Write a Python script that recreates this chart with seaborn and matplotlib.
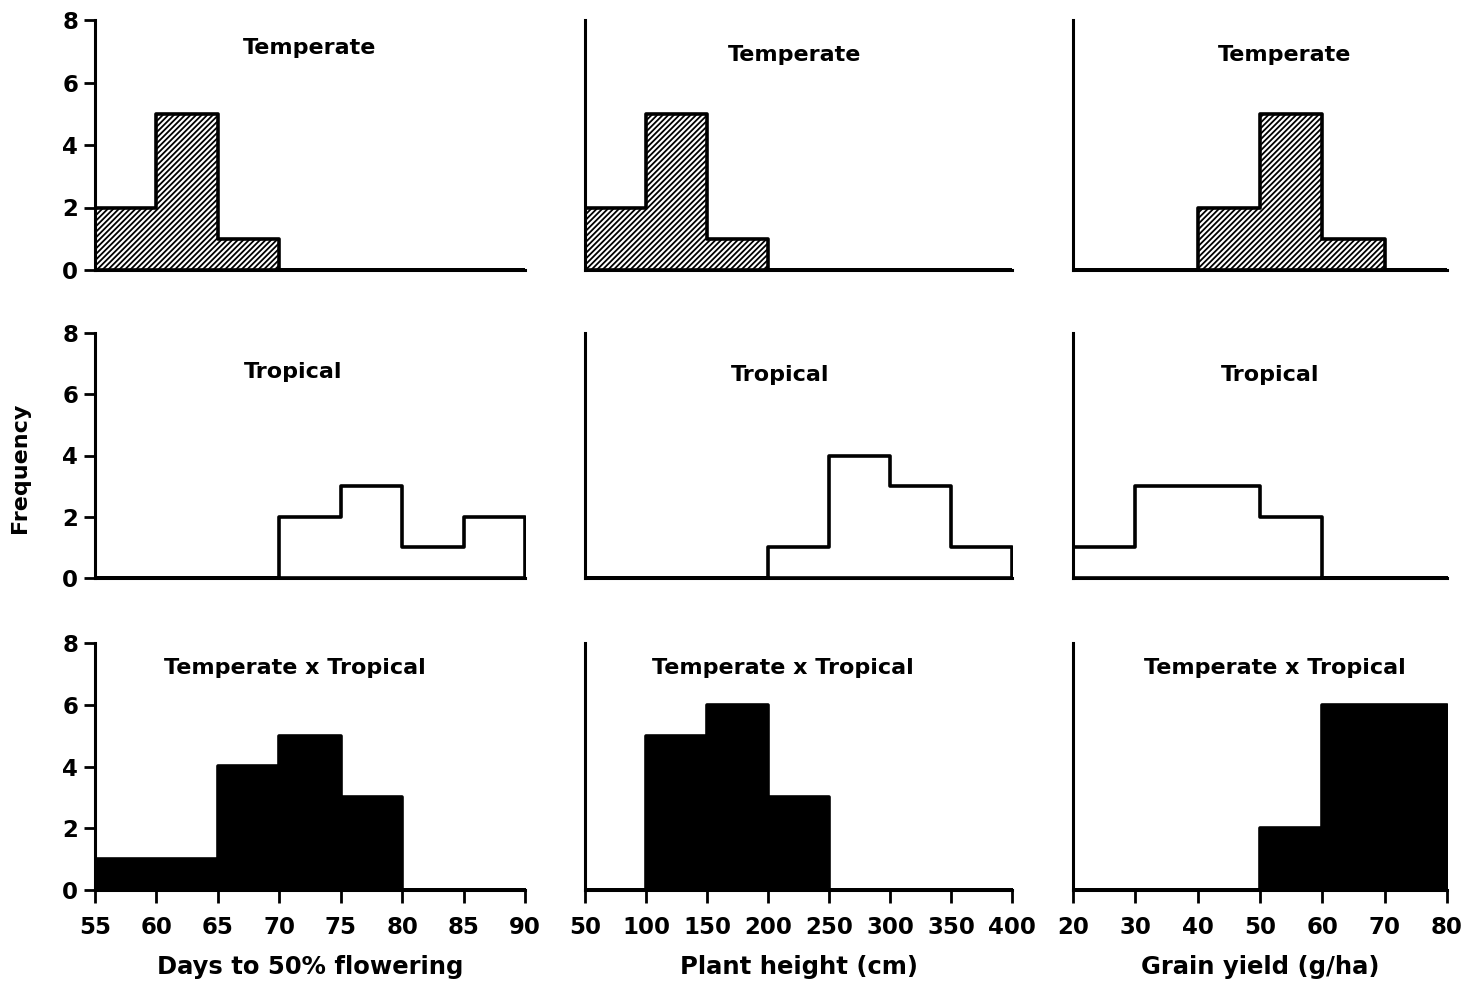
import numpy as np
import pandas as pd
import seaborn as sns
import matplotlib.pyplot as plt

# ---------------- data ----------------
days_edges = [55, 60, 65, 70, 75, 80, 85, 90]
days_temperate = [2, 5, 1, 0, 0, 0, 0]
days_tropical = [0, 0, 0, 2, 3, 1, 2]
days_cross = [1, 1, 4, 5, 3, 0, 0]

height_edges = [50, 100, 150, 200, 250, 300, 350, 400]
height_temperate = [2, 5, 1, 0, 0, 0, 0]
height_tropical = [0, 0, 0, 1, 4, 3, 1]
height_cross = [0, 5, 6, 3, 0, 0, 0]

yield_edges = [20, 30, 40, 50, 60, 70, 80]
yield_temperate = [0, 0, 2, 5, 1, 0]
yield_tropical = [1, 3, 3, 2, 0, 0]
yield_cross = [0, 0, 0, 2, 6, 6]

groups = ["Temperate", "Tropical", "Temperate x Tropical"]
xlabels = ["Days to 50% flowering", "Plant height (cm)", "Grain yield (g/ha)"]
y_ticks = [0, 2, 4, 6, 8]

columns = [
    (days_edges, [days_temperate, days_tropical, days_cross]),
    (height_edges, [height_temperate, height_tropical, height_cross]),
    (yield_edges, [yield_temperate, yield_tropical, yield_cross]),
]

# ---------------- style ----------------
sns.set_style("ticks")
plt.rcParams['font.family'] = ['DejaVu Sans']
plt.rcParams['font.weight'] = 'bold'
plt.rcParams['hatch.linewidth'] = 1.3
plt.rcParams['text.color'] = 'black'
plt.rcParams['xtick.color'] = 'black'
plt.rcParams['ytick.color'] = 'black'
plt.rcParams['axes.labelcolor'] = 'black'
plt.rcParams['axes.edgecolor'] = 'black'

W, H = 1482, 982
fig = plt.figure(figsize=(W / 100, H / 100), dpi=100)

col_px = [(95, 525), (585, 1012), (1073, 1447)]
row_px = [(20, 270), (333, 578), (643, 890)]

styles = [
    dict(facecolor="white", edgecolor="black", hatch="//////"),
    dict(facecolor="white", edgecolor="black"),
    dict(facecolor="black", edgecolor="black"),
]

title_pos = [
    [(0.50, 0.89), (0.49, 0.86), (0.567, 0.86)],
    [(0.46, 0.84), (0.457, 0.83), (0.527, 0.83)],
    [(0.465, 0.90), (0.463, 0.90), (0.54, 0.90)],
]

for c, (edges, series) in enumerate(columns):
    x0, x1 = col_px[c]
    for r, counts in enumerate(series):
        y0, y1 = row_px[r]
        ax = fig.add_axes([x0 / W, 1 - y1 / H, (x1 - x0) / W, (y1 - y0) / H])
        centers = [(edges[i] + edges[i + 1]) / 2 for i in range(len(counts))]
        df = pd.DataFrame({"x": centers, "w": counts})
        sns.histplot(data=df, x="x", weights="w", bins=edges, element="step",
                     fill=True, linewidth=2.6, ax=ax, **styles[r])
        ax.set_xlim(edges[0], edges[-1])
        ax.set_ylim(0, 8)
        ax.set_xlabel("")
        ax.set_ylabel("")
        for s in ["top", "right"]:
            ax.spines[s].set_visible(False)
        for s in ["left", "bottom"]:
            ax.spines[s].set_linewidth(2.2)
        if r == 2:
            ax.set_xticks(edges)
            ax.set_xticklabels([str(e) for e in edges], fontsize=16.5, fontweight='bold')
            ax.tick_params(axis="x", length=9, width=2, pad=10)
            ax.set_xlabel(xlabels[c], fontsize=17.5, fontweight='bold', labelpad=11)
        else:
            ax.set_xticks([])
        if c == 0:
            ax.set_yticks(y_ticks)
            ax.set_yticklabels([str(t) for t in y_ticks], fontsize=16.5, fontweight='bold')
            ax.tick_params(axis="y", length=8, width=2, pad=4)
        else:
            ax.set_yticks([])
        tx, ty = title_pos[r][c]
        ax.text(tx, ty, groups[r], transform=ax.transAxes, ha="center", va="center",
                fontsize=16, fontweight="bold")

fig.text(20 / W, 1 - 468 / H, "Frequency", rotation=90, ha="center", va="center",
         fontsize=16, fontweight="bold")

fig.savefig("out.png", dpi=100)
